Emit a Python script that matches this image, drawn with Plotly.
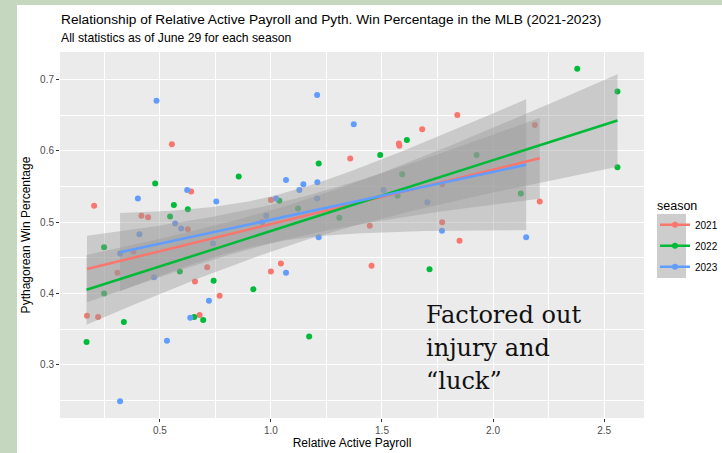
import numpy as np
import plotly.graph_objects as go

# Relative active payroll (x) and Pythagorean win pct (y) by season
x_2021 = [0.554, 0.641, 0.204, 0.417, 0.447, 0.626, 0.381, 0.309, 0.713, 0.658,
          0.769, 0.172, 0.222, 0.679, 1.839, 1.681, 1.576, 1.578, 1.357, 1.000,
          1.771, 1.445, 1.771, 1.849, 1.045, 1.000, 1.453, 2.188, 2.210]
y_2021 = [0.609, 0.543, 0.523, 0.509, 0.507, 0.490, 0.459, 0.429, 0.437, 0.417,
          0.397, 0.369, 0.367, 0.370, 0.650, 0.630, 0.610, 0.607, 0.589, 0.531,
          0.553, 0.495, 0.500, 0.474, 0.442, 0.431, 0.439, 0.636, 0.529]

x_2022 = [0.855, 0.479, 0.563, 0.626, 0.546, 0.249, 0.590, 0.742, 0.249, 0.338,
          0.655, 0.695, 0.170, 1.612, 1.492, 1.215, 1.591, 1.926, 1.038, 1.122,
          1.570, 1.308, 1.714, 0.921, 1.172, 2.379, 2.560, 2.560, 2.125]
y_2022 = [0.564, 0.554, 0.524, 0.518, 0.508, 0.465, 0.431, 0.418, 0.400, 0.360,
          0.367, 0.363, 0.332, 0.615, 0.594, 0.582, 0.567, 0.594, 0.530, 0.519,
          0.537, 0.506, 0.434, 0.406, 0.340, 0.715, 0.683, 0.577, 0.540]

x_2023 = [0.485, 0.401, 0.623, 0.754, 0.569, 0.596, 0.408, 0.739, 0.321, 0.474,
          0.721, 0.637, 0.532, 0.321, 1.208, 1.373, 1.068, 1.146, 1.128, 1.209,
          1.023, 1.208, 1.507, 1.704, 0.979, 0.961, 1.770, 1.215, 1.068, 2.149]
y_2023 = [0.670, 0.533, 0.545, 0.529, 0.498, 0.491, 0.483, 0.470, 0.456, 0.423,
          0.390, 0.366, 0.334, 0.249, 0.678, 0.637, 0.559, 0.553, 0.545, 0.556,
          0.533, 0.533, 0.545, 0.528, 0.509, 0.500, 0.488, 0.479, 0.429, 0.479]

seasons = ["2021", "2022", "2023"]
season_x = [x_2021, x_2022, x_2023]
season_y = [y_2021, y_2022, y_2023]
season_colors = ["#F8766D", "#00BA38", "#619CFF"]


def t975(df):
    # Cornish-Fisher approximation of the 97.5% t quantile
    z = 1.959964
    return z + (z**3 + z) / (4 * df) + (5 * z**5 + 16 * z**3 + 3 * z) / (96 * df**2)


def lm_band(xs, ys, n_grid=80):
    xs = np.asarray(xs)
    ys = np.asarray(ys)
    n = len(xs)
    b, a = np.polyfit(xs, ys, 1)
    resid = ys - (a + b * xs)
    s = np.sqrt(np.sum(resid**2) / (n - 2))
    sxx = np.sum((xs - xs.mean())**2)
    grid = np.linspace(xs.min(), xs.max(), n_grid)
    fit = a + b * grid
    se = s * np.sqrt(1 / n + (grid - xs.mean())**2 / sxx)
    t = t975(n - 2)
    return grid, fit, fit - t * se, fit + t * se


fig = go.Figure()

# Points first, so the ribbons sit over them (as in ggplot)
for name, xs, ys, col in zip(seasons, season_x, season_y, season_colors):
    fig.add_trace(go.Scatter(x=xs, y=ys, mode="markers", name=name,
                             marker=dict(color=col, size=6),
                             showlegend=False, hoverinfo="skip"))

fits = []
for name, xs, ys, col in zip(seasons, season_x, season_y, season_colors):
    grid, fit, lo, hi = lm_band(xs, ys)
    fits.append((grid, fit))
    fig.add_trace(go.Scatter(x=np.concatenate([grid, grid[::-1]]),
                             y=np.concatenate([hi, lo[::-1]]),
                             fill="toself", fillcolor="rgba(153,153,153,0.4)",
                             line=dict(width=0), mode="lines",
                             showlegend=False, hoverinfo="skip"))

for name, (grid, fit), col in zip(seasons, fits, season_colors):
    fig.add_trace(go.Scatter(x=grid, y=fit, mode="lines",
                             line=dict(color=col, width=2.5),
                             showlegend=False, hoverinfo="skip"))

# legend keys (line + point), one group each so the gap spaces them out
for name, col in zip(seasons, season_colors):
    fig.add_trace(go.Scatter(x=[None], y=[None], mode="lines+markers", name=name,
                             legendgroup=name,
                             line=dict(color=col, width=2.5),
                             marker=dict(color=col, size=6)))

all_x = np.concatenate([np.asarray(v) for v in season_x])
all_y = np.concatenate([np.asarray(v) for v in season_y])
xpad = 0.05 * (all_x.max() - all_x.min())
ypad = 0.05 * (all_y.max() - all_y.min())

axis_common = dict(
    showgrid=True, gridcolor="white", gridwidth=1.2,
    zeroline=False, showline=False, automargin=False,
    ticks="outside", ticklen=3, tickcolor="#333333",
    tickfont=dict(family="Liberation Sans", size=10, color="#4D4D4D"),
    tickformat=".1f",
)

fig.update_xaxes(range=[all_x.min() - xpad, all_x.max() + xpad],
                 tick0=0.5, dtick=0.5,
                 minor=dict(dtick=0.25, showgrid=True, gridcolor="white", gridwidth=0.6),
                 title=dict(text="Relative Active Payroll", standoff=3,
                            font=dict(family="Liberation Sans", size=12, color="black")),
                 **axis_common)
fig.update_yaxes(range=[all_y.min() - ypad, all_y.max() + ypad],
                 tick0=0.3, dtick=0.1,
                 minor=dict(dtick=0.05, showgrid=True, gridcolor="white", gridwidth=0.6),
                 title=dict(text="Pythagorean Win Percentage", standoff=6,
                            font=dict(family="Liberation Sans", size=12, color="black")),
                 **axis_common)

W, H = 722, 453
L, R, T, B = 60, 78, 52, 35
pw, ph = W - L - R, H - T - B


def px_x(px):
    return (px - L) / pw


def px_y(py):
    return (H - B - py) / ph


shapes = [
    # slide background strips
    dict(type="rect", xref="paper", yref="paper", x0=px_x(0), x1=px_x(17),
         y0=px_y(H), y1=px_y(0), fillcolor="#C5D7BE", line=dict(width=0), layer="below"),
    dict(type="rect", xref="paper", yref="paper", x0=px_x(0), x1=px_x(W),
         y0=px_y(5), y1=px_y(0), fillcolor="#C5D7BE", line=dict(width=0), layer="below"),
    # legend key background
    dict(type="rect", xref="paper", yref="paper", x0=px_x(657), x1=px_x(686),
         y0=px_y(278), y1=px_y(214), fillcolor="#CDCDCD", line=dict(width=0)),
]

note_font = dict(family="DejaVu Serif", size=24, color="#111111")
annotations = [
    dict(text="Relationship of Relative Active Payroll and Pyth. Win Percentage in the MLB (2021-2023)",
         xref="paper", yref="paper", x=px_x(59), y=px_y(19), xanchor="left", yanchor="middle",
         showarrow=False, font=dict(family="Liberation Sans", size=13.7, color="black")),
    dict(text="All statistics as of June 29 for each season", xref="paper", yref="paper",
         x=px_x(59), y=px_y(38), xanchor="left", yanchor="middle", showarrow=False,
         font=dict(family="Liberation Sans", size=12.2, color="black")),
    dict(text="Factored out", xref="paper", yref="paper", x=px_x(424), y=px_y(315),
         xanchor="left", yanchor="middle", showarrow=False, font=note_font),
    dict(text="injury and", xref="paper", yref="paper", x=px_x(424), y=px_y(348),
         xanchor="left", yanchor="middle", showarrow=False, font=note_font),
    dict(text="\u201cluck\u201d", xref="paper", yref="paper", x=px_x(424), y=px_y(381),
         xanchor="left", yanchor="middle", showarrow=False, font=note_font),
]

fig.update_layout(
    width=W, height=H,
    margin=dict(l=L, r=R, t=T, b=B, autoexpand=False),
    paper_bgcolor="white", plot_bgcolor="#EBEBEB",
    legend=dict(title=dict(text="season", font=dict(family="Liberation Sans", size=12.5, color="black")),
                xref="container", yref="container",
                x=655 / W, xanchor="left", y=1 - 194 / H, yanchor="top",
                font=dict(family="Liberation Sans", size=10, color="black"),
                bgcolor="rgba(0,0,0,0)", tracegroupgap=2),
    shapes=shapes,
    annotations=annotations,
    showlegend=True,
)

# drop the browser's default body margin so the figure sits at the page corner
fig.write_html("out.html", config={"displayModeBar": False},
               post_script="document.body.style.margin='0px';")
